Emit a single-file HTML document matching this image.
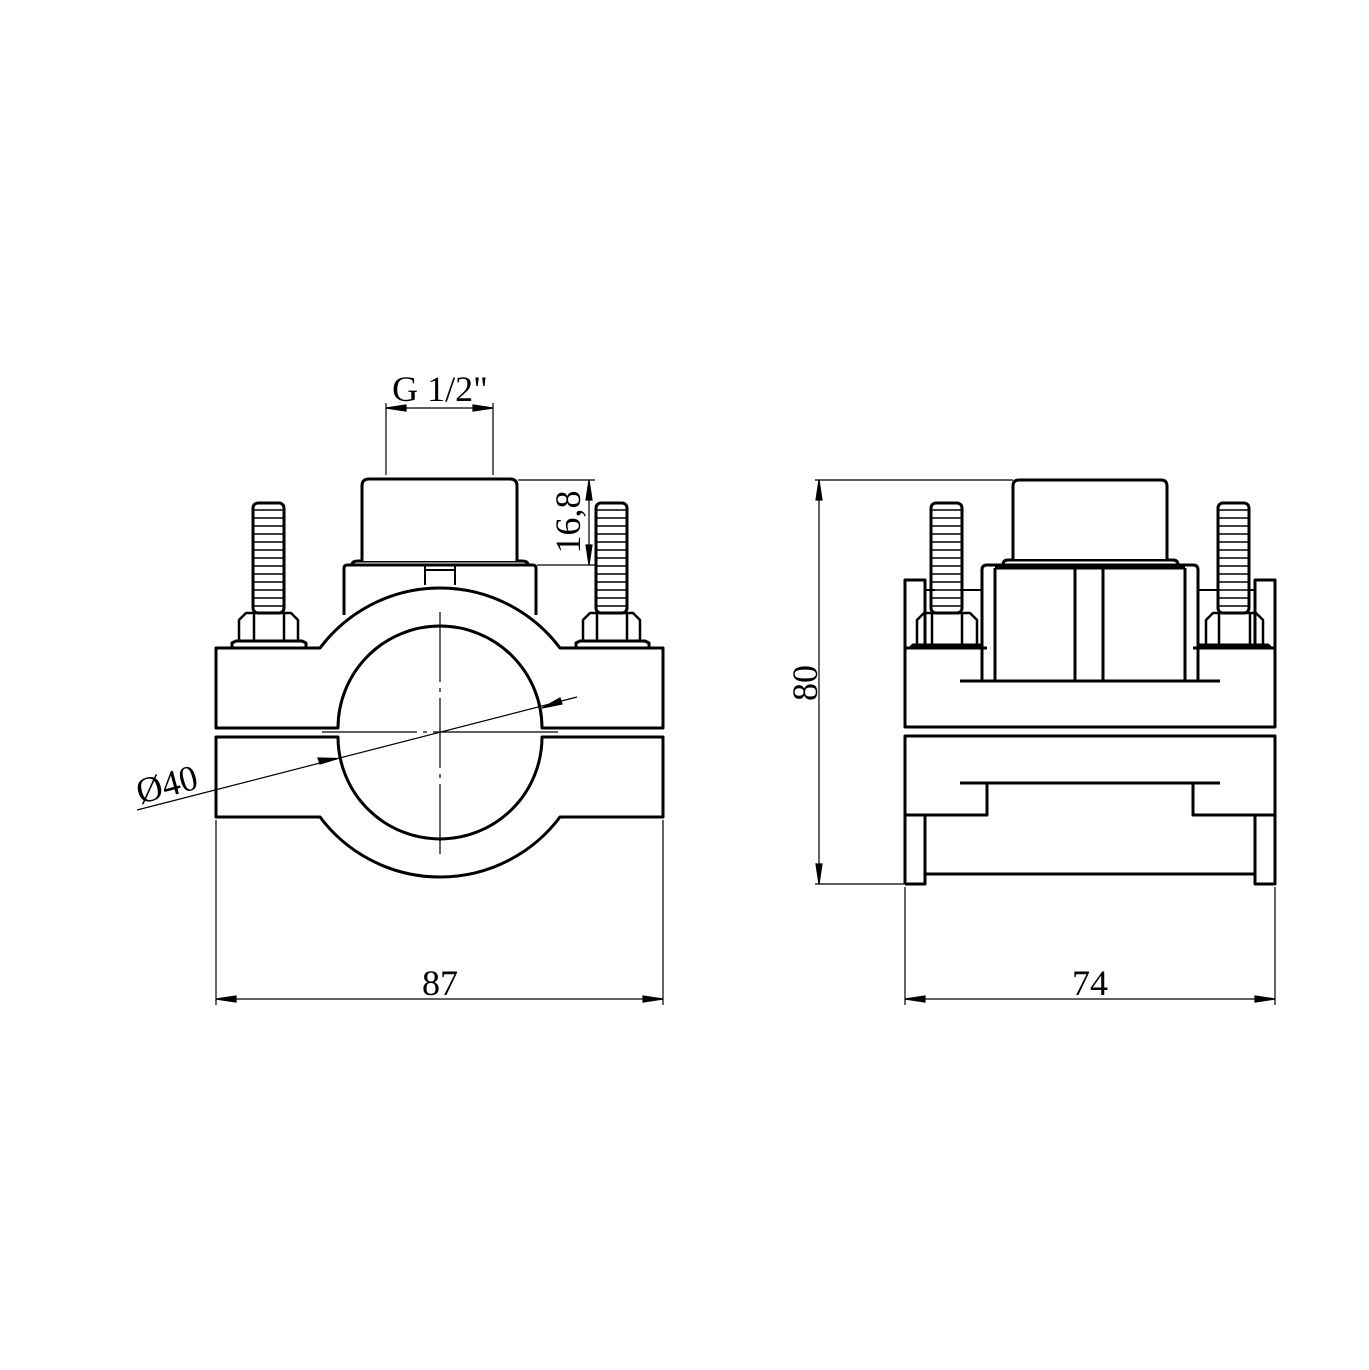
<!DOCTYPE html>
<html><head><meta charset="utf-8"><style>html,body{margin:0;padding:0;background:#fff}svg{display:block}</style></head>
<body>
<svg width="1369" height="1370" viewBox="0 0 1369 1370" xmlns="http://www.w3.org/2000/svg" font-family="Liberation Serif, serif">
<defs>
<pattern id="thr" x="0" y="2" width="40" height="8" patternUnits="userSpaceOnUse"><line x1="0" y1="4" x2="40" y2="4" stroke="#000" stroke-width="1.5"/></pattern>
</defs>
<rect width="1369" height="1370" fill="#fff"/>
<g fill="none" stroke="#000" stroke-width="3" stroke-linejoin="round">
<!-- LEFT VIEW -->
<path d="M216,648 H320 A150,150 0 0 1 560,648 H663 V728 H542 A100,100 0 0 0 338,728 H216 Z" fill="#fff"/>
<path d="M216,737 H338 A100,100 0 0 0 542,737 H663 V817 H560 A150,150 0 0 1 320,817 H216 Z" fill="#fff"/>
<path d="M344,615 V568 Q344,565 348,565 H532 Q536,565 536,568 V615"/>
<path d="M425,565 V585 M455,565 V585 M425,570 H455" stroke-width="2"/>
<path d="M352,565 Q352,561 358,561 H522 Q528,561 528,565"/>
<path d="M362,561 V486 Q362,479 369,479 H510 Q517,479 517,486 V561" fill="#fff"/>
<rect x="253" y="503" width="31" height="110" rx="5" fill="url(#thr)"/>
<rect x="596" y="503" width="31" height="110" rx="5" fill="url(#thr)"/>
<path d="M239,641 V620 L246,613 H291 L298,620 V641 M254,613 V641 M284,613 V641" stroke-width="2.5"/>
<path d="M232,648 V643 L236,641 H302 L306,643 V648"/>
<path d="M583,641 V620 L590,613 H633 L640,620 V641 M597,613 V641 M627,613 V641" stroke-width="2.5"/>
<path d="M576,648 V643 L580,641 H645 L649,643 V648"/>
</g>
<g fill="none" stroke="#000" stroke-width="1.2">
<line x1="440" y1="612" x2="440" y2="855" stroke-dasharray="70,6,4,6"/>
<line x1="322" y1="732" x2="558" y2="732" stroke-dasharray="95,6,4,6,200"/>
<line x1="386" y1="403" x2="386" y2="475"/>
<line x1="493" y1="403" x2="493" y2="475"/>
<line x1="386" y1="408" x2="493" y2="408"/>
<path d="M406,405 L386,408 L406,411 Z M473,405 L493,408 L473,411 Z" fill="#000"/>
<line x1="518" y1="480" x2="595" y2="480"/>
<line x1="537" y1="565" x2="595" y2="565"/>
<line x1="589" y1="480" x2="589" y2="565"/>
<path d="M586,500 L589,480 L592,500 Z M586,545 L589,565 L592,545 Z" fill="#000"/>
<line x1="137" y1="810" x2="577" y2="697"/>
<path d="M318,758 L338,758.5 L320,764 Z" fill="#000"/>
<path d="M562,704 L542,708 L560,698 Z" fill="#000"/>
<line x1="216" y1="820" x2="216" y2="1005"/>
<line x1="663" y1="820" x2="663" y2="1005"/>
<line x1="216" y1="999" x2="663" y2="999"/>
<path d="M236,996 L216,999 L236,1002 Z M643,996 L663,999 L643,1002 Z" fill="#000"/>
<line x1="815" y1="480" x2="1013" y2="480"/>
<line x1="815" y1="884" x2="905" y2="884"/>
<line x1="819" y1="480" x2="819" y2="884"/>
<path d="M816,500 L819,480 L822,500 Z M816,864 L819,884 L822,864 Z" fill="#000"/>
<line x1="905" y1="887" x2="905" y2="1005"/>
<line x1="1275" y1="887" x2="1275" y2="1005"/>
<line x1="905" y1="999" x2="1275" y2="999"/>
<path d="M925,996 L905,999 L925,1002 Z M1255,996 L1275,999 L1255,1002 Z" fill="#000"/>
</g>
<!-- RIGHT VIEW -->
<g fill="none" stroke="#000" stroke-width="3" stroke-linejoin="round">
<path d="M987,648 H905 V727 H1275 V648 H1193"/>
<path d="M905,648 V580 H925 V648 M1255,648 V580 H1275 V648"/>
<path d="M925,590 H935 M960,590 H982 M1198,590 H1218 M1248,590 H1255" stroke-width="2"/>
<path d="M982,681 V570 Q982,565 987,565 H1193 Q1198,565 1198,570 V681"/>
<path d="M995,568 V681 M1075,568 V681 M1103,568 V681 M1185,568 V681 M995,568 H1185"/>
<path d="M1003,565 Q1003,560 1008,560 H1173 Q1178,560 1178,565"/>
<path d="M1013,559 V486 Q1013,480 1019,480 H1161 Q1167,480 1167,486 V559" fill="#fff"/>
<line x1="960" y1="681" x2="1220" y2="681"/>
<rect x="931" y="503" width="31" height="110" rx="5" fill="url(#thr)"/>
<rect x="1218" y="503" width="31" height="110" rx="5" fill="url(#thr)"/>
<path d="M917,645 V620 L924,613 H970 L977,620 V645 M932,613 V645 M962,613 V645" stroke-width="2.5"/>
<path d="M910,648 L913,645 H983"/>
<path d="M1206,645 V620 L1213,613 H1256 L1263,620 V645 M1219,613 V645 M1250,613 V645" stroke-width="2.5"/>
<path d="M1197,645 H1268 L1271,648"/>
<path d="M905,884 V736 H1275 V884 H1255 V815 H1193 V783 M1220,783 H960 M987,783 V815 H905 M905,884 H925 V815 M1255,815 H1275"/>
<line x1="925" y1="874" x2="1255" y2="874"/>
</g>
<g font-size="36" fill="#000" text-anchor="middle">
<text x="440" y="401">G 1/2"</text>
<text x="440" y="995">87</text>
<text x="1090" y="995">74</text>
<text transform="translate(580,522) rotate(-90)">16,8</text>
<text transform="translate(817,683) rotate(-90)">80</text>
<text transform="translate(170,796) rotate(-15)">Ø40</text>
</g>
</svg>
</body></html>
